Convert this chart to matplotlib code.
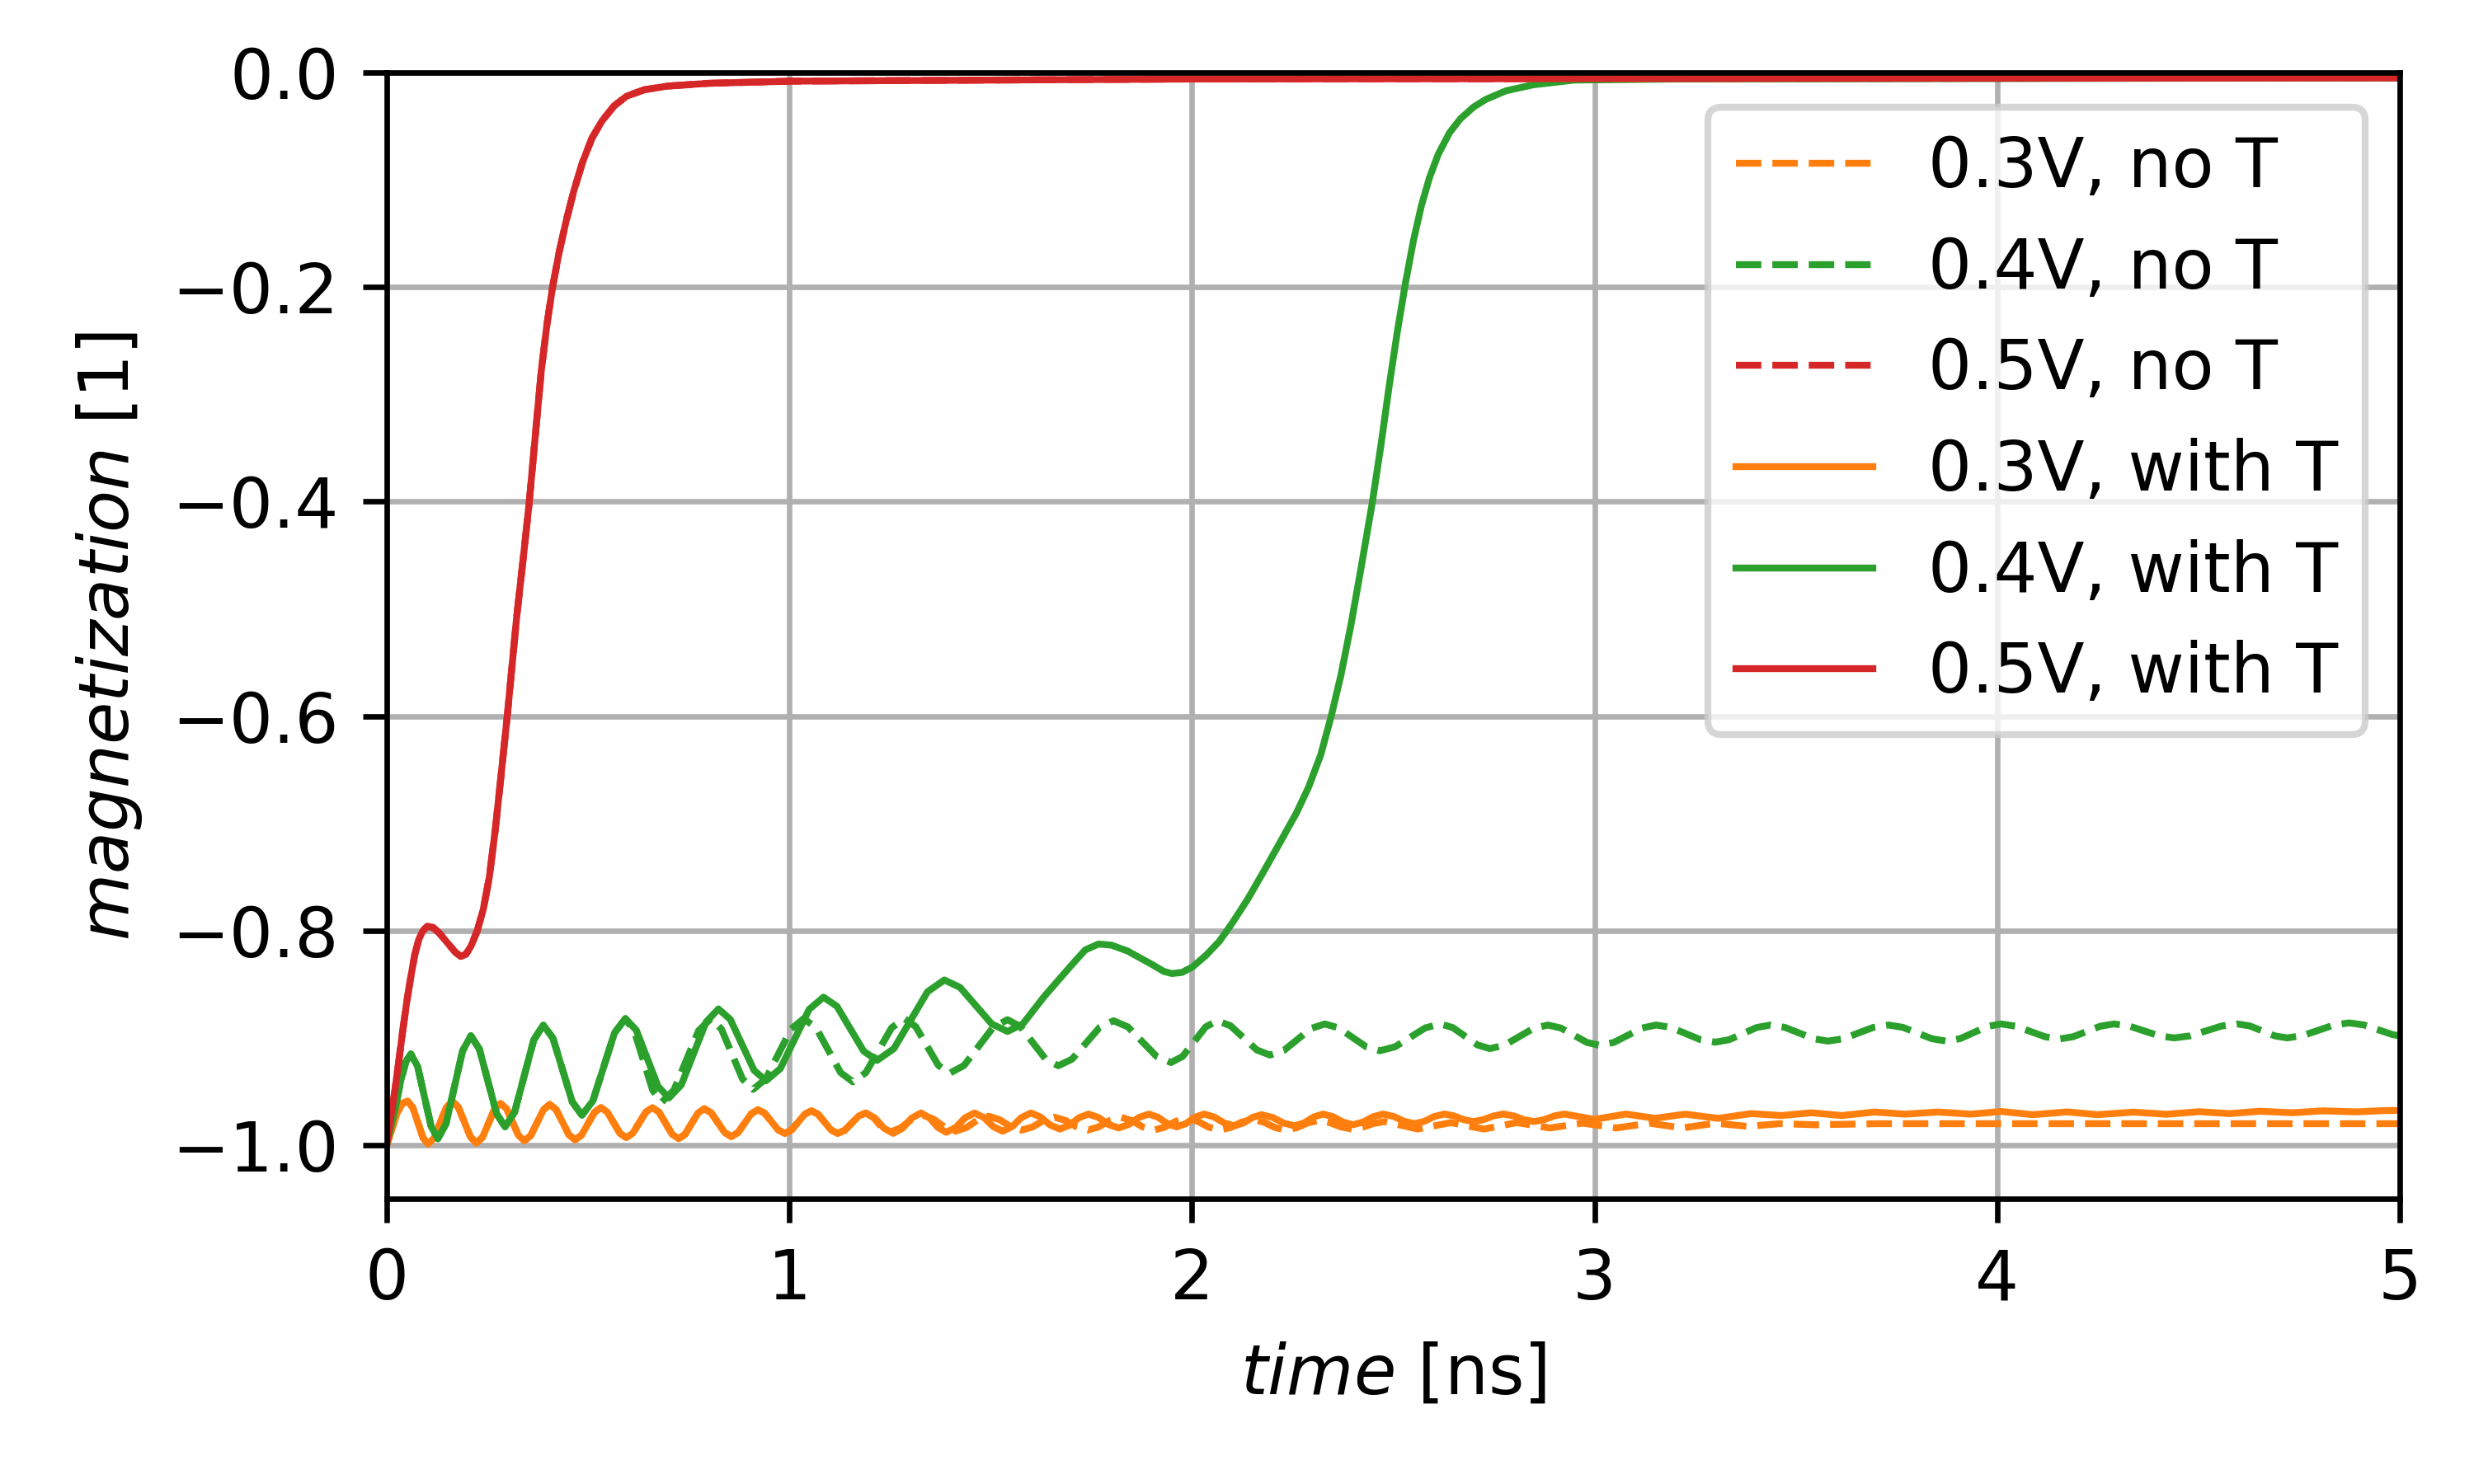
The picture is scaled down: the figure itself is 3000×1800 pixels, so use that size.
import matplotlib
matplotlib.use("Agg")
import matplotlib.pyplot as plt

# ---- data: (time [ns], magnetization) ----
# 0.5 V: the no-T and with-T curves coincide in the picture
pts_05 = [(0.0, -1.0), (0.010, -0.975), (0.020, -0.950), (0.030, -0.922), (0.040, -0.893),
          (0.050, -0.866), (0.060, -0.843), (0.070, -0.822), (0.080, -0.808), (0.090, -0.800),
          (0.101, -0.796), (0.115, -0.797), (0.130, -0.802), (0.150, -0.811), (0.170, -0.820),
          (0.184, -0.824), (0.197, -0.822), (0.210, -0.814), (0.225, -0.800), (0.240, -0.780),
          (0.255, -0.750), (0.270, -0.705), (0.285, -0.652), (0.300, -0.598), (0.323, -0.507),
          (0.340, -0.450), (0.354, -0.401), (0.370, -0.335), (0.384, -0.278), (0.398, -0.235),
          (0.412, -0.200), (0.428, -0.168), (0.446, -0.138), (0.465, -0.110), (0.487, -0.083),
          (0.510, -0.061), (0.535, -0.045), (0.565, -0.031), (0.596, -0.022), (0.640, -0.016),
          (0.698, -0.0126), (0.800, -0.010), (1.006, -0.008), (2.0, -0.006), (5.0, -0.005)]

# 0.4 V, early part where both curves overlap
pts_04_early = [(0.0, -1.0), (0.02, -0.968), (0.035, -0.940), (0.048, -0.922), (0.060, -0.915),
                (0.0768, -0.9266), (0.0935, -0.9545), (0.1103, -0.9824), (0.127, -0.994),
                (0.1475, -0.9799), (0.168, -0.946), (0.1885, -0.9121), (0.209, -0.898),
                (0.2303, -0.9105), (0.2515, -0.9405), (0.2728, -0.9705), (0.294, -0.983),
                (0.3178, -0.9691), (0.3415, -0.9355), (0.3653, -0.9019), (0.389, -0.888),
                (0.413, -0.9003), (0.437, -0.930), (0.461, -0.9597), (0.485, -0.972),
                (0.512, -0.9588), (0.539, -0.927), (0.566, -0.8952), (0.593, -0.882)]

# 0.4 V with T, after 0.593 ns
pts_04T_late = [(0.620, -0.8928), (0.647, -0.919), (0.674, -0.9452), (0.701, -0.956),
                (0.7318, -0.9438), (0.7625, -0.9145), (0.7933, -0.8852), (0.824, -0.873),
                (0.8535, -0.8828), (0.883, -0.9065), (0.9125, -0.9302), (0.942, -0.940),
                (0.9778, -0.9286), (1.0135, -0.901), (1.0493, -0.8734), (1.085, -0.862),
                (1.1183, -0.8706), (1.1515, -0.8915), (1.1848, -0.9124), (1.218, -0.921),
                (1.2598, -0.9100), (1.3015, -0.8835), (1.3433, -0.8570), (1.385, -0.846),
                (1.4243, -0.8530), (1.4635, -0.870), (1.5028, -0.8870), (1.542, -0.894),
                (1.580, -0.887), (1.634, -0.861), (1.699, -0.833), (1.735, -0.818), (1.768, -0.8125),
                (1.800, -0.8135), (1.840, -0.819), (1.903, -0.832), (1.930, -0.838), (1.950, -0.840),
                (1.975, -0.839), (2.001, -0.834), (2.035, -0.823), (2.068, -0.810),
                (2.100, -0.793), (2.138, -0.771), (2.181, -0.743), (2.220, -0.717), (2.260, -0.690),
                (2.290, -0.666), (2.320, -0.636), (2.346, -0.600), (2.370, -0.562), (2.395, -0.515),
                (2.420, -0.462), (2.448, -0.401), (2.470, -0.346), (2.490, -0.292), (2.510, -0.242),
                (2.530, -0.197), (2.550, -0.157), (2.570, -0.124), (2.590, -0.098), (2.612, -0.076),
                (2.640, -0.056), (2.667, -0.043), (2.700, -0.032), (2.730, -0.025), (2.780, -0.017),
                (2.848, -0.0114), (2.950, -0.007), (3.2, -0.006), (5.0, -0.005)]

# 0.4 V no T, after 0.593 ns
pts_04N_late = [(0.6155, -0.8943), (0.638, -0.9215), (0.6605, -0.9487), (0.683, -0.960),
                (0.7135, -0.9486), (0.744, -0.921), (0.7745, -0.8934), (0.805, -0.882),
                (0.8313, -0.8917), (0.8575, -0.915), (0.8838, -0.9383), (0.910, -0.948),
                (0.9415, -0.9383), (0.973, -0.915), (1.0045, -0.8917), (1.036, -0.882),
                (1.0665, -0.8906), (1.097, -0.9115), (1.1275, -0.9324), (1.158, -0.941),
                (1.190, -0.9324), (1.222, -0.9115), (1.254, -0.8906), (1.286, -0.882),
                (1.314, -0.8895), (1.342, -0.9075), (1.370, -0.9255), (1.398, -0.933),
                (1.434, -0.9257), (1.470, -0.908), (1.506, -0.8903), (1.542, -0.883),
                (1.5735, -0.8893), (1.605, -0.9045), (1.6365, -0.9197), (1.668, -0.926),
                (1.7023, -0.9198), (1.7365, -0.905), (1.7708, -0.8902), (1.805, -0.884),
                (1.8408, -0.8897), (1.8765, -0.9035), (1.9123, -0.9173), (1.948, -0.923),
                (1.9768, -0.9173), (2.0055, -0.9035), (2.0343, -0.8897), (2.063, -0.884),
                (2.0958, -0.8887), (2.1285, -0.900), (2.1613, -0.9113), (2.194, -0.916),
                (2.228, -0.9118), (2.262, -0.9015), (2.296, -0.8912), (2.330, -0.887),
                (2.3643, -0.8907), (2.3985, -0.8995), (2.4328, -0.9083), (2.467, -0.912),
                (2.5045, -0.9083), (2.542, -0.8995), (2.5795, -0.8907), (2.617, -0.887),
                (2.6478, -0.8904), (2.6785, -0.8985), (2.7093, -0.9066), (2.740, -0.910),
                (2.776, -0.9068), (2.812, -0.899), (2.848, -0.8912), (2.884, -0.888),
                (2.9163, -0.8908), (2.9485, -0.8975), (2.9808, -0.9042), (3.013, -0.907),
                (3.048, -0.9042), (3.083, -0.8975), (3.118, -0.8908), (3.153, -0.888),
                (3.1898, -0.8903), (3.2265, -0.896), (3.2633, -0.9017), (3.300, -0.904),
                (3.3343, -0.9017), (3.3685, -0.896), (3.4028, -0.8903), (3.437, -0.888),
                (3.4728, -0.8902), (3.5085, -0.8955), (3.5443, -0.9008), (3.580, -0.903),
                (3.6175, -0.9008), (3.655, -0.8955), (3.6925, -0.8902), (3.730, -0.888),
                (3.766, -0.8902), (3.802, -0.8955), (3.838, -0.9008), (3.874, -0.903),
                (3.908, -0.9007), (3.942, -0.895), (3.976, -0.8893), (4.010, -0.887),
                (4.0463, -0.8891), (4.0825, -0.894), (4.1188, -0.8989), (4.155, -0.901),
                (4.1888, -0.8989), (4.2225, -0.894), (4.2563, -0.8891), (4.290, -0.887),
                (4.3275, -0.8889), (4.365, -0.8935), (4.4025, -0.8981), (4.440, -0.900),
                (4.4793, -0.8981), (4.5185, -0.8935), (4.5578, -0.8889), (4.597, -0.887),
                (4.6278, -0.8889), (4.6585, -0.8935), (4.6893, -0.8981), (4.720, -0.900),
                (4.7585, -0.8979), (4.797, -0.893), (4.8355, -0.8881), (4.874, -0.886),
                (4.9105, -0.8879), (4.947, -0.8925), (4.9835, -0.8971), (5.0, -0.898)]

# 0.3 V, early part where both curves overlap
pts_03_early = [(0.0, -1.0), (0.013, -0.985), (0.026, -0.970), (0.039, -0.961), (0.052, -0.959),
                (0.0648, -0.9649), (0.0775, -0.979), (0.0903, -0.9931), (0.103, -0.999),
                (0.118, -0.9931), (0.133, -0.979), (0.148, -0.9649), (0.163, -0.959),
                (0.178, -0.9647), (0.193, -0.9785), (0.208, -0.9923), (0.223, -0.998),
                (0.238, -0.9926), (0.253, -0.9795), (0.268, -0.9664), (0.283, -0.961),
                (0.2978, -0.9661), (0.3125, -0.9785), (0.3273, -0.9909), (0.342, -0.996),
                (0.3578, -0.991), (0.3735, -0.979), (0.3893, -0.967), (0.405, -0.962),
                (0.4208, -0.9668), (0.4365, -0.9785), (0.4523, -0.9902), (0.468, -0.995),
                (0.484, -0.9906), (0.500, -0.980), (0.516, -0.9694), (0.532, -0.965),
                (0.5478, -0.9691), (0.5635, -0.979), (0.5793, -0.9889), (0.595, -0.993),
                (0.6113, -0.9889), (0.6275, -0.979), (0.6438, -0.9691), (0.660, -0.965),
                (0.6763, -0.9692), (0.6925, -0.9795), (0.7088, -0.9898), (0.725, -0.994),
                (0.741, -0.9899), (0.757, -0.980), (0.773, -0.9701), (0.789, -0.966),
                (0.8058, -0.9698), (0.8225, -0.979), (0.8393, -0.9882), (0.856, -0.992),
                (0.8725, -0.9883), (0.889, -0.9795), (0.9055, -0.9707), (0.922, -0.967),
                (0.9388, -0.9702), (0.9555, -0.978), (0.9723, -0.9858), (0.989, -0.989),
                (1.0055, -0.9859), (1.022, -0.9785), (1.0385, -0.9711), (1.055, -0.968),
                (1.0713, -0.9711), (1.0875, -0.9785), (1.1038, -0.9859), (1.120, -0.989),
                (1.1375, -0.9862), (1.155, -0.9795), (1.1725, -0.9728), (1.190, -0.970)]

# 0.3 V with T, after 1.19 ns
pts_03T_late = [(1.2127, -0.97475), (1.2353, -0.98425), (1.258, -0.989),
                (1.281, -0.98425), (1.304, -0.97475), (1.327, -0.970),
                (1.348, -0.9745), (1.369, -0.9835), (1.390, -0.988),
                (1.4133, -0.9835), (1.4367, -0.9745), (1.460, -0.970),
                (1.4833, -0.97425), (1.5067, -0.98275), (1.530, -0.987),
                (1.5533, -0.98275), (1.5767, -0.97425), (1.600, -0.970),
                (1.624, -0.97375), (1.648, -0.98125), (1.672, -0.985),
                (1.6957, -0.9815), (1.7193, -0.9745), (1.743, -0.971),
                (1.768, -0.97425), (1.793, -0.98075), (1.818, -0.984),
                (1.843, -0.98075), (1.868, -0.97425), (1.893, -0.971),
                (1.916, -0.974), (1.939, -0.980), (1.962, -0.983),
                (1.9847, -0.980), (2.0073, -0.974), (2.030, -0.971),
                (2.055, -0.97375), (2.080, -0.97925), (2.105, -0.982),
                (2.1277, -0.9794), (2.1503, -0.9742), (2.173, -0.9716),
                (2.2003, -0.9742), (2.2277, -0.9794), (2.255, -0.982),
                (2.2787, -0.97925), (2.3023, -0.97375), (2.326, -0.971),
                (2.3507, -0.9735), (2.3753, -0.9785), (2.400, -0.981),
                (2.425, -0.9785), (2.450, -0.9735), (2.475, -0.971),
                (2.501, -0.97325), (2.527, -0.97775), (2.553, -0.980),
                (2.5777, -0.97775), (2.6023, -0.97325), (2.627, -0.971),
                (2.651, -0.97275), (2.675, -0.97625), (2.699, -0.978),
                (2.724, -0.97625), (2.749, -0.97275), (2.774, -0.971),
                (2.7993, -0.97275), (2.8247, -0.97625), (2.850, -0.978),
                (2.875, -0.97625), (2.900, -0.97275), (2.925, -0.971),
                (3.000, -0.976), (3.078, -0.971), (3.150, -0.975), (3.225, -0.9711),
                (3.307, -0.975), (3.389, -0.9706), (3.464, -0.9724), (3.539, -0.9698),
                (3.614, -0.9724), (3.696, -0.9691), (3.771, -0.9711), (3.853, -0.9691),
                (3.935, -0.9711), (4.010, -0.9686), (4.088, -0.9716), (4.174, -0.9690),
                (4.249, -0.9716), (4.338, -0.9692), (4.420, -0.9712), (4.502, -0.9688),
                (4.577, -0.9706), (4.652, -0.9684), (4.734, -0.9698), (4.809, -0.9680),
                (4.891, -0.9690), (4.960, -0.9678), (5.0, -0.9676)]

# 0.3 V no T, after 1.19 ns
pts_03N_late = [(1.2097, -0.9745), (1.2293, -0.9835), (1.249, -0.988),
                (1.2763, -0.984), (1.3037, -0.976), (1.331, -0.972),
                (1.3583, -0.97575), (1.3857, -0.98325), (1.413, -0.987),
                (1.4403, -0.9835), (1.4677, -0.9765), (1.495, -0.973),
                (1.5223, -0.97625), (1.5497, -0.98275), (1.577, -0.986),
                (1.6043, -0.983), (1.6317, -0.977), (1.659, -0.974),
                (1.6863, -0.977), (1.7137, -0.983), (1.741, -0.986),
                (1.7683, -0.983), (1.7957, -0.977), (1.823, -0.974),
                (1.8503, -0.977), (1.8777, -0.983), (1.905, -0.986),
                (1.9323, -0.98325), (1.9597, -0.97775), (1.987, -0.975),
                (2.0143, -0.97775), (2.0417, -0.98325), (2.069, -0.986),
                (2.0963, -0.9835), (2.1237, -0.9785), (2.151, -0.976),
                (2.1783, -0.9785), (2.2057, -0.9835), (2.233, -0.986),
                (2.2603, -0.98375), (2.2877, -0.97925), (2.315, -0.977),
                (2.3423, -0.979), (2.3697, -0.983), (2.397, -0.985),
                (2.4243, -0.98325), (2.4517, -0.97975), (2.479, -0.978),
                (2.561, -0.985), (2.643, -0.979), (2.725, -0.985), (2.807, -0.979),
                (2.889, -0.984), (2.971, -0.9795), (3.054, -0.984), (3.136, -0.9795),
                (3.218, -0.984), (3.300, -0.9795), (3.380, -0.9825), (3.460, -0.980),
                (3.550, -0.981), (3.700, -0.980), (5.0, -0.980)]

labels = ["0.3V, no T", "0.4V, no T", "0.5V, no T",
          "0.3V, with T", "0.4V, with T", "0.5V, with T"]
colors = ["C1", "C2", "C3"]
x_ticks = [0, 1, 2, 3, 4, 5]
y_ticks = [-1.0, -0.8, -0.6, -0.4, -0.2, 0.0]


def unzip(pts):
    return [p[0] for p in pts], [p[1] for p in pts]


series_noT = [unzip(pts_03_early + pts_03N_late),
              unzip(pts_04_early + pts_04N_late),
              unzip(pts_05)]
series_T = [unzip(pts_03_early + pts_03T_late),
            unzip(pts_04_early + pts_04T_late),
            unzip(pts_05)]

# ---- figure ----
fig = plt.figure(figsize=(5, 3), dpi=600)
ax = fig.add_axes([0.1563, 0.1922, 0.9700 - 0.1563, 0.9511 - 0.1922])

for (t, m), c, lab in zip(series_noT, colors, labels[:3]):
    ax.plot(t, m, color=c, lw=1, ls="--", label=lab)
for (t, m), c, lab in zip(series_T, colors, labels[3:]):
    ax.plot(t, m, color=c, lw=1, ls="-", label=lab)

ax.set_xlim(0, 5)
ax.set_ylim(-1.05, 0)
ax.set_xticks(x_ticks)
ax.set_yticks(y_ticks)
ax.grid(True)
ax.set_xlabel("$time$ [ns]")
ax.set_ylabel("$magnetization$ [1]")
ax.legend(loc="upper right")

fig.savefig("out.png", dpi=600)
